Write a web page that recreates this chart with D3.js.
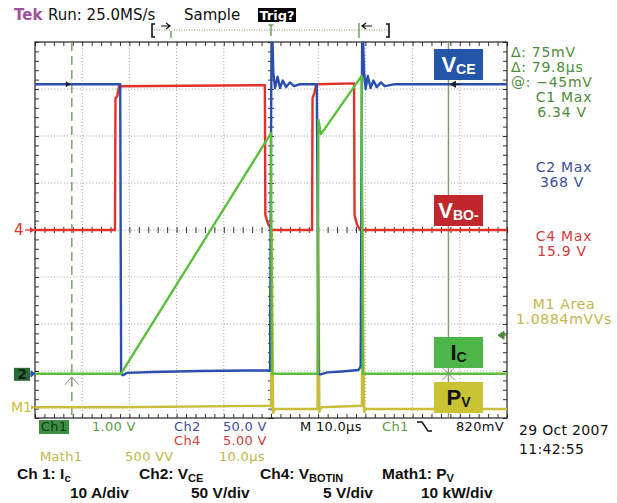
<!DOCTYPE html>
<html>
<head>
<meta charset="utf-8">
<script src="https://d3js.org/d3.v7.min.js"></script>
<style>
  body { margin: 0; background: #fff; }
  svg { display: block; }
  .tek { font-family: "DejaVu Sans", sans-serif; font-size: 14px; }
  .lbl { font-family: "Liberation Sans", Arial, sans-serif; font-weight: bold; }
</style>
</head>
<body>
<div id="chart"></div>
<script>
// horizontal: time in µs, trigger at 0, 10 µs/div. vertical: divisions from centre
var timeDomain = [-50, 50];
var divDomain = [-4, 4];

// Ch1: collector current Ic (A), 10 A/div
var icTime = [-50, -31.8, 0, 0.2, 9.9, 10.05, 10.6, 19.2, 19.45, 50];
var icAmp  = [0, 0, 51.2, 0, 0, 54, 51, 63.4, 0, 0];

// Ch2: VCE (V), 50 V/div
var vceTime = [-50, -31.95, -31.75, -31.4, -30.5, -25, -15, -5, -0.2, 0.05, 0.15, 0.5, 0.85, 1.4, 1.9, 2.5, 3.2, 4.0, 4.9, 6,
               9.7, 9.85, 10.05, 10.5, 12, 15, 18.5, 19.0, 19.2, 19.35, 19.7, 20.05, 20.5, 21.1, 21.7, 22.4, 23.3, 24.1, 26, 50];
var vceVolt = [308, 308, 0, -1.5, 1, 2, 3, 3.5, 3.5, 300, 385, 320, 304, 316, 304, 312, 305, 310, 306, 308,
               308, 200, 0, -0.5, 1.5, 2.5, 4, 8, 250, 385, 322, 303, 317, 304, 312, 305, 310, 306, 308, 308];

// Ch4: gate drive VBOTIN (V), 5 V/div
var vboTime = [-50, -33.05, -32.95, -32.6, -32.2, -1.3, -1.2, -0.6, 0.2, 8.7, 8.8, 9.2, 9.6, 17.6, 17.7, 18.2, 18.9, 50];
var vboVolt = [0, 0, 14, 14.2, 15.3, 15.4, 1.6, 0.6, 0, 0, 14, 14.6, 15.5, 15.6, 1.6, 0.6, 0, 0];

// Math1: power loss Pv (kW), 10 kW/div
var pvTime = [-50, -31.8, 0, 0.15, 0.45, 0.8, 9.85, 10.0, 10.25, 10.6, 19.25, 19.4, 19.7, 20.1, 50];
var pvKw   = [0, 0, 0.3, 38, -1.2, -0.4, -0.4, 38, -1, 0, 0.3, 42, -1, -0.4, -0.4];

// reference level (div) and units per div for Ch1, Ch2, Ch4, Math1
var chRef = [-3.06, -3.06, 0, -3.77];
var chPerDiv = [10, 50, 5, 10];
var chColor = ['#5cbf3c', '#2b4fae', '#e2312b', '#c9bd3a'];

// cursors (µs) and trigger level (div above Ch1 ref)
var cursorTime = [-42.2, 37.6];
var trigLevel = 0.82;

var W = 617, H = 503;
var svg = d3.select('#chart').append('svg').attr('width', W).attr('height', H);

var x = d3.scaleLinear().domain(timeDomain).range([35, 507]);
var y = d3.scaleLinear().domain(divDomain).range([418, 42]);

//graticule
var grid = svg.append('g');
var majorT = d3.range(-40, 41, 10);
var majorD = d3.range(-3, 4, 1);
grid.selectAll('.gv').data(majorT).enter().append('line')
    .attr('x1', function (d) { return x(d); }).attr('x2', function (d) { return x(d); })
    .attr('y1', y(4)).attr('y2', y(-4))
    .style('stroke', '#9a9a9a').style('stroke-dasharray', '1,2.2');
grid.selectAll('.gh').data(majorD).enter().append('line')
    .attr('y1', function (d) { return y(d); }).attr('y2', function (d) { return y(d); })
    .attr('x1', x(-50)).attr('x2', x(50))
    .style('stroke', '#9a9a9a').style('stroke-dasharray', '1,2.2');

var minorT = d3.range(-50, 50.01, 2);
var minorD = d3.range(-4, 4.01, 0.2);
function noLabel(g) { g.select('.domain').remove(); g.selectAll('text').remove(); g.selectAll('line').style('stroke', '#333'); }
grid.append('g').attr('transform', 'translate(0,' + y(4) + ')')
    .call(d3.axisBottom(x).tickValues(minorT).tickSize(4)).call(noLabel);
grid.append('g').attr('transform', 'translate(0,' + y(-4) + ')')
    .call(d3.axisTop(x).tickValues(minorT).tickSize(4)).call(noLabel);
grid.append('g').attr('transform', 'translate(' + x(-50) + ',0)')
    .call(d3.axisRight(y).tickValues(minorD).tickSize(4)).call(noLabel);
grid.append('g').attr('transform', 'translate(' + x(50) + ',0)')
    .call(d3.axisLeft(y).tickValues(minorD).tickSize(4)).call(noLabel);
// centre lines with small ticks both sides
grid.append('g').attr('transform', 'translate(0,' + y(0) + ')')
    .call(d3.axisBottom(x).tickValues(minorT).tickSize(3)).call(noLabel);
grid.append('g').attr('transform', 'translate(0,' + y(0) + ')')
    .call(d3.axisTop(x).tickValues(minorT).tickSize(3)).call(noLabel);
grid.append('g').attr('transform', 'translate(' + x(0) + ',0)')
    .call(d3.axisRight(y).tickValues(minorD).tickSize(3)).call(noLabel);
grid.append('g').attr('transform', 'translate(' + x(0) + ',0)')
    .call(d3.axisLeft(y).tickValues(minorD).tickSize(3)).call(noLabel);
grid.append('rect')
    .attr('x', x(-50)).attr('y', y(4)).attr('width', x(50) - x(-50)).attr('height', y(-4) - y(4))
    .style('fill', 'none').style('stroke', '#222').style('stroke-width', 1.2);

//cursors
svg.append('line').attr('x1', x(cursorTime[0])).attr('x2', x(cursorTime[0])).attr('y1', y(4)).attr('y2', y(-4))
    .style('stroke', '#82a070').style('stroke-width', 1.5).style('stroke-dasharray', '9,5');
svg.append('line').attr('x1', x(cursorTime[1])).attr('x2', x(cursorTime[1])).attr('y1', y(4)).attr('y2', y(-4))
    .style('stroke', '#82a070').style('stroke-width', 1.5);

//traces
svg.append('clipPath').attr('id', 'plotClip').append('rect')
    .attr('x', x(-50)).attr('y', y(4)).attr('width', x(50) - x(-50)).attr('height', y(-4) - y(4));
var plot = svg.append('g').attr('clip-path', 'url(#plotClip)');
var line = d3.line().x(function (d) { return x(d[0]); }).y(function (d) { return y(d[1]); });
function trace(times, vals, ch) {
    var pts = times.map(function (t, i) { return [t, chRef[ch] + vals[i] / chPerDiv[ch]]; });
    plot.append('path').datum(pts).attr('d', line)
        .style('fill', 'none').style('stroke', chColor[ch])
        .style('stroke-width', 2.4).style('stroke-linejoin', 'round');
}
trace(pvTime, pvKw, 3);
trace(vboTime, vboVolt, 2);
trace(vceTime, vceVolt, 1);
trace(icTime, icAmp, 0);

//cursor markers
var mk = svg.append('g').style('stroke', '#888').style('fill', 'none');
var c0 = x(cursorTime[0]), c1 = x(cursorTime[1]), yb = y(chRef[0]);
mk.append('path').attr('d', 'M' + (c0 - 7) + ',' + (yb + 11) + 'L' + c0 + ',' + (yb + 3) + 'L' + (c0 + 7) + ',' + (yb + 11));
mk.append('path').attr('d', 'M' + (c1 - 6) + ',' + (yb - 6) + 'L' + (c1 + 6) + ',' + (yb + 6) + 'M' + (c1 + 6) + ',' + (yb - 6) + 'L' + (c1 - 6) + ',' + (yb + 6));
var yh = y(chRef[1] + 308 / 50);
svg.append('path').attr('d', 'M' + (c0 - 6) + ',' + (yh - 3) + 'L' + (c0 - 1) + ',' + yh + 'L' + (c0 - 6) + ',' + (yh + 3) + 'Z').style('fill', '#222');
svg.append('path').attr('d', 'M' + (c1 + 2) + ',' + yh + 'L' + (c1 + 7) + ',' + (yh - 3) + 'L' + (c1 + 7) + ',' + (yh + 3) + 'Z M' + (c1 + 7) + ',' + yh + 'L' + (c1 + 12) + ',' + yh)
    .style('fill', '#222').style('stroke', '#222');

//reference markers on the left
var g4 = svg.append('g').style('fill', chColor[2]).style('stroke', chColor[2]);
g4.append('text').attr('class', 'tek').attr('x', 14).attr('y', y(0) + 5).style('stroke', 'none').style('font-size', '15px').text('4');
g4.append('path').attr('d', 'M25,' + y(0) + 'L31,' + y(0)).style('stroke-width', 1.3);
g4.append('path').attr('d', 'M35,' + y(0) + 'L30,' + (y(0) - 3) + 'L30,' + (y(0) + 3) + 'Z').style('stroke', 'none');
var y2 = y(chRef[1]);
svg.append('rect').attr('x', 14).attr('y', y2 - 6).attr('width', 16).attr('height', 13).style('fill', '#2c6a35');
svg.append('text').attr('class', 'tek').attr('x', 22).attr('y', y2 + 5).attr('text-anchor', 'middle')
    .style('fill', '#0d2410').style('font-weight', 'bold').text('2');
svg.append('path').attr('d', 'M30,' + y2 + 'L32,' + y2 + 'M35,' + y2 + 'L31,' + (y2 - 3) + 'L31,' + (y2 + 3) + 'Z')
    .style('fill', chColor[1]).style('stroke', chColor[1]);
var ym = y(chRef[3]);
svg.append('text').attr('class', 'tek').attr('x', 11).attr('y', ym + 5).style('fill', chColor[3]).text('M1');
svg.append('path').attr('d', 'M35,' + ym + 'L31,' + (ym - 2.5) + 'L31,' + (ym + 2.5) + 'Z').style('fill', chColor[3]);
// trigger level arrow on the right
var yt = y(chRef[0] + trigLevel);
svg.append('path').attr('d', 'M498,' + yt + 'L504,' + (yt - 4) + 'L504,' + (yt + 4) + 'Z M503,' + yt + 'L507,' + yt)
    .style('fill', '#4e8c3a').style('stroke', '#4e8c3a');

//record bar on top
var bar = svg.append('g');
bar.append('line').attr('x1', 154).attr('x2', 388).attr('y1', 30).attr('y2', 30)
    .style('stroke', '#7a9a6a').style('stroke-dasharray', '1,1.5');
bar.append('path').attr('d', 'M155,24L152,24L152,37L155,37 M386,24L389,24L389,37L386,37').style('fill', 'none').style('stroke', '#111').style('stroke-width', 1.6);
bar.append('path').attr('d', 'M161,26L169,26 M166,23L170,26L166,29').style('fill', 'none').style('stroke', '#111').style('stroke-width', 1.2);
bar.append('path').attr('d', 'M372,26L363,26 M366,23L362,26L366,29').style('fill', 'none').style('stroke', '#111').style('stroke-width', 1.2);
bar.append('path').attr('d', 'M171,31L171,38 M359,23L359,38 M' + x(0) + ',25L' + x(0) + ',36 M' + (x(0) - 2.5) + ',25L' + (x(0) + 2.5) + ',25')
    .style('fill', 'none').style('stroke', '#6a9a4a').style('stroke-width', 1.4);

//header
var hdr = svg.append('g').attr('class', 'tek').style('font-size', '15px');
hdr.append('text').attr('x', 14).attr('y', 20).style('fill', '#a0509a').style('font-weight', 'bold').text('Tek');
hdr.append('text').attr('x', 48).attr('y', 20).style('fill', '#111').text('Run: 25.0MS/s');
hdr.append('text').attr('x', 184).attr('y', 20).style('fill', '#111').text('Sample');
svg.append('rect').attr('x', 258).attr('y', 8).attr('width', 38).attr('height', 14).style('fill', '#000');
svg.append('text').attr('class', 'tek').attr('x', 277).attr('y', 20).attr('text-anchor', 'middle')
    .style('fill', '#fff').style('font-weight', 'bold').style('font-size', '13px').text('Trig?');

//right readouts
var readouts = [
    ['Δ: 75mV', 511, 57, 'start', '#4e8c3a'],
    ['Δ: 79.8µs', 511, 72, 'start', '#4e8c3a'],
    ['@: −45mV', 511, 87, 'start', '#4e8c3a'],
    ['C1 Max', 564, 102, 'middle', '#4e8c3a'],
    ['6.34 V', 562, 117, 'middle', '#4e8c3a'],
    ['C2 Max', 564, 172, 'middle', '#3c4ea0'],
    ['368 V', 562, 187, 'middle', '#3c4ea0'],
    ['C4 Max', 564, 241, 'middle', '#d43c3c'],
    ['15.9 V', 562, 256, 'middle', '#d43c3c'],
    ['M1 Area', 564, 309, 'middle', '#c3b54a'],
    ['1.0884mVVs', 564, 324, 'middle', '#c3b54a']
];
svg.append('g').attr('class', 'tek').style('font-size', '14px').style('letter-spacing', '0.7px')
    .selectAll('text').data(readouts).enter().append('text')
    .attr('x', function (d) { return d[1]; }).attr('y', function (d) { return d[2]; })
    .attr('text-anchor', function (d) { return d[3]; })
    .style('fill', function (d) { return d[4]; })
    .text(function (d) { return d[0]; });

//bottom readouts
svg.append('rect').attr('x', 39).attr('y', 420).attr('width', 30).attr('height', 14).style('fill', '#3d8d45');
var bottom = [
    ['Ch1', 54, 431, 'middle', '#123a16'],
    ['1.00 V', 92, 431, 'start', '#5a9a40'],
    ['Ch2', 174, 431, 'start', '#3c4ea0'],
    ['50.0 V', 223, 431, 'start', '#3c4ea0'],
    ['Ch4', 174, 445, 'start', '#d43c3c'],
    ['5.00 V', 223, 445, 'start', '#d43c3c'],
    ['M 10.0µs', 300, 431, 'start', '#111'],
    ['Ch1', 382, 431, 'start', '#5a9a40'],
    ['820mV', 456, 431, 'start', '#111'],
    ['29 Oct 2007', 519, 435, 'start', '#111'],
    ['11:42:55', 519, 454, 'start', '#111'],
    ['Math1', 40, 461, 'start', '#c3b54a'],
    ['500 VV', 125, 461, 'start', '#c3b54a'],
    ['10.0µs', 219, 461, 'start', '#c3b54a']
];
svg.append('g').attr('class', 'tek').style('font-size', '13px').style('letter-spacing', '0.3px')
    .selectAll('text').data(bottom).enter().append('text')
    .attr('x', function (d) { return d[1]; }).attr('y', function (d) { return d[2]; })
    .attr('text-anchor', function (d) { return d[3]; })
    .style('fill', function (d) { return d[4]; })
    .style('font-size', function (d) { return d[1] > 500 ? '14px' : null; })
    .text(function (d) { return d[0]; });
// falling slope symbol
svg.append('path').attr('d', 'M417,422L422,422L428,431L432,431').style('fill', 'none').style('stroke', '#111').style('stroke-width', 1.5);

//channel legend under the screen
function subText(g, px, py, main, sub, subSize) {
    var t = g.append('text').attr('x', px).attr('y', py);
    t.append('tspan').text(main);
    t.append('tspan').attr('dy', 3).style('font-size', subSize + 'px').text(sub);
    return t;
}
var leg = svg.append('g').attr('class', 'lbl').style('font-size', '15.5px').style('fill', '#111');
subText(leg, 17, 479, 'Ch 1: I', 'c', 11);
subText(leg, 139, 479, 'Ch2: V', 'CE', 11);
subText(leg, 260, 479, 'Ch4: V', 'BOTIN', 11);
subText(leg, 382, 479, 'Math1: P', 'V', 11);
var units = [['10 A/div', 70], ['50 V/div', 191], ['5 V/div', 323], ['10 kW/div', 421]];
leg.selectAll('.u').data(units).enter().append('text')
    .attr('x', function (d) { return d[1]; }).attr('y', 498)
    .text(function (d) { return d[0]; });

//label boxes
var boxes = [
    ['V', 'CE', 49, '#2356a8', '#fff'],
    ['V', 'BO-', 195, '#c1272d', '#fff'],
    ['I', 'C', 337, '#4cb748', '#111'],
    ['P', 'V', 382, '#c9c232', '#111']
];
boxes.forEach(function (b) {
    var g = svg.append('g').attr('class', 'lbl');
    g.append('rect').attr('x', 434).attr('y', b[2]).attr('width', 49).attr('height', 31).style('fill', b[3]);
    var t = g.append('text').attr('x', 458.5).attr('y', b[2] + 23).attr('text-anchor', 'middle').style('fill', b[4]);
    t.append('tspan').style('font-size', '22px').text(b[0]);
    t.append('tspan').attr('dy', 2).style('font-size', '14px').text(b[1]);
});
</script>
</body>
</html>
